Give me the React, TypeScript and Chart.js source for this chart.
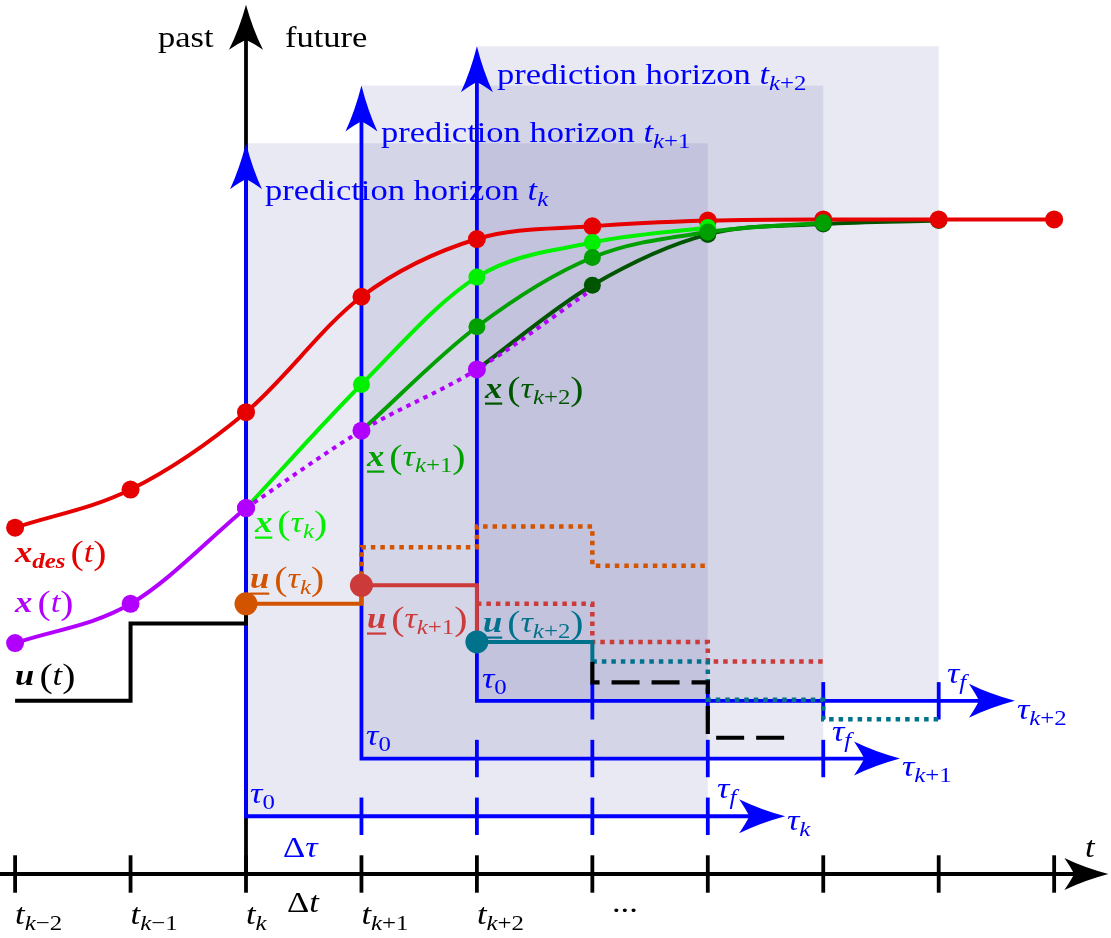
import React, { useEffect, useRef } from "react";
import { Chart, registerables } from "chart.js";

Chart.register(...registerables);

// ---------------- value ranges (1 unit = one sampling step, t_k = 0) ----------------
const X_MIN = -2.1308;
const X_MAX = 7.4924;
const Y_MIN = -0.5544;
const Y_MAX = 7.5704;

// ---------------- time axis ----------------
const timeTicks = [-2, -1, 0, 1, 2, 3, 4, 5, 6, 7];
const timeTickSubs = ["k−2", "k−1", "k", "k+1", "k+2"]; // for ticks -2 .. 2
const timeAxisEnd = 7.47;
const nowAxisTop = 7.53;

// ---------------- prediction horizons ----------------
const horizonStart = [0, 1, 2];
const horizonEnd = [4, 5, 6];
const horizonBase = [0.5, 1.0, 1.5];
const horizonTop = [6.33, 6.83, 7.17];
const horizonArrowEnd = [4.67, 5.665, 6.66];
const horizonSubs = ["k", "k+1", "k+2"];

// ---------------- states ----------------
const xDesT = [-2, -1, 0, 1, 2, 3, 4, 5, 6, 7];
const xDesV = [3.0, 3.33, 4.0, 5.0, 5.5, 5.61, 5.66, 5.67, 5.67, 5.67];

const xPastT = [-2, -1, 0];
const xPastV = [2.0, 2.34, 3.17];

const xActualT = [0, 1, 2, 2.95];
const xActualV = [3.17, 3.84, 4.37, 5.03];

const predKT = [0, 1, 2, 3, 4];
const predKV = [3.17, 4.24, 5.17, 5.47, 5.6];
const predK1T = [1, 2, 3, 4, 5];
const predK1V = [3.84, 4.74, 5.34, 5.56, 5.64];
const predK2T = [2, 3, 4, 5, 6];
const predK2V = [4.37, 5.1, 5.54, 5.63, 5.66];

// ---------------- inputs (step values) ----------------
const uPastT = [-2, -1, 0];
const uPastV = [1.5, 2.17, 2.34];
const uKT = [0, 1];
const uKV = [2.34, 2.5];
const uKPredT = [1, 1, 2, 3, 4];
const uKPredV = [2.5, 2.83, 3.01, 2.67, 2.67];
const uK1T = [1, 2];
const uK1V = [2.5, 2.01];
const uK1PredT = [2, 3, 4, 5];
const uK1PredV = [2.34, 2.01, 1.84, 1.84];
const uK2T = [2, 3];
const uK2V = [2.01, 1.84];
const uK2PredT = [3, 4, 5, 6];
const uK2PredV = [1.84, 1.51, 1.34, 1.34];
const uFutureT = [3, 3, 4, 4.67];
const uFutureV = [1.84, 1.66, 1.18, 1.18];

// ---------------- colours ----------------
const BLACK = "#000000";
const BLUE = "#0000FF";
const RED = "#E60000";
const PURPLE = "#B200FF";
const LIME = "#00F000";
const MIDGREEN = "#00A000";
const DARKGREEN = "#005600";
const ORANGE = "#D35400";
const INRED = "#CC3A3A";
const TEAL = "#00728C";
const SHADE = "rgba(40,40,140,0.1)";

// ---------------- text annotations (data coordinates, left / baseline) ----------------
type Part = [string, string];
const paren = (inner: Part[]): Part[] => [["", "s"], ["(", "P"], ...inner, [")", "P"]];
const tauSub = (sub: string): Part[] => {
  const m = sub.match(/^([a-z]*)(.*)$/);
  const parts: Part[] = [["τ", "i"]];
  if (m && m[1]) parts.push([m[1], "_i"]);
  if (m && m[2]) parts.push([m[2], "_r"]);
  return parts;
};

const annotations: { x: number; y: number; color: string; parts: Part[] }[] = [
  { x: -0.762, y: 7.163, color: BLACK, parts: [["past", "r"]] },
  { x: 0.338, y: 7.163, color: BLACK, parts: [["future", "r"]] },
  { x: 0.165, y: 5.838, color: BLUE, parts: [["prediction horizon ", "r"], ["t", "i"], ["k", "_i"]] },
  { x: 1.169, y: 6.34, color: BLUE, parts: [["prediction horizon ", "r"], ["t", "i"], ["k", "_i"], ["+1", "_r"]] },
  { x: 2.174, y: 6.843, color: BLUE, parts: [["prediction horizon ", "r"], ["t", "i"], ["k", "_i"], ["+2", "_r"]] },
  { x: -2.0, y: 2.7, color: RED, parts: [["x", "B"], ["des", "_B"], ...paren([["t", "i"]])] },
  { x: -2.0, y: 2.269, color: PURPLE, parts: [["x", "B"], ...paren([["t", "i"]])] },
  { x: -2.0, y: 1.637, color: BLACK, parts: [["u", "B"], ...paren([["t", "i"]])] },
  { x: 0.078, y: 2.962, color: LIME, parts: [["x", "U"], ...paren(tauSub("k"))] },
  { x: 0.035, y: 2.477, color: ORANGE, parts: [["u", "U"], ...paren(tauSub("k"))] },
  { x: 1.048, y: 3.534, color: MIDGREEN, parts: [["x", "U"], ...paren(tauSub("k+1"))] },
  { x: 1.048, y: 2.131, color: INRED, parts: [["u", "U"], ...paren(tauSub("k+1"))] },
  { x: 2.053, y: 2.096, color: TEAL, parts: [["u", "U"], ...paren(tauSub("k+2"))] },
  { x: 2.07, y: 4.123, color: DARKGREEN, parts: [["x", "U"], ...paren(tauSub("k+2"))] },
  { x: 0.035, y: 0.615, color: BLUE, parts: [["τ", "i"], ["0", "_r"]] },
  { x: 1.04, y: 1.117, color: BLUE, parts: [["τ", "i"], ["0", "_r"]] },
  { x: 2.044, y: 1.611, color: BLUE, parts: [["τ", "i"], ["0", "_r"]] },
  { x: 4.08, y: 0.658, color: BLUE, parts: [["τ", "i"], ["f", "_i"]] },
  { x: 5.076, y: 1.152, color: BLUE, parts: [["τ", "i"], ["f", "_i"]] },
  { x: 6.072, y: 1.654, color: BLUE, parts: [["τ", "i"], ["f", "_i"]] },
  { x: 4.686, y: 0.381, color: BLUE, parts: tauSub(horizonSubs[0]) },
  { x: 5.682, y: 0.849, color: BLUE, parts: tauSub(horizonSubs[1]) },
  { x: 6.678, y: 1.343, color: BLUE, parts: tauSub(horizonSubs[2]) },
  { x: 0.32, y: 0.147, color: BLUE, parts: [["Δ", "r"], ["τ", "i"]] },
  { x: 0.355, y: -0.329, color: BLACK, parts: [["Δ", "r"], ["t", "i"]] },
  { x: 3.17, y: -0.329, color: BLACK, parts: [["...", "r"]] },
  { x: 7.267, y: 0.147, color: BLACK, parts: [["t", "i"]] },
  ...timeTickSubs.map((s, i) => {
    const m = s.match(/^([a-z]*)(.*)$/)!;
    const parts: Part[] = [["t", "i"], [m[1], "_i"]];
    if (m[2]) parts.push([m[2], "_r"]);
    return { x: timeTicks[i], y: -0.433, color: BLACK, parts };
  }),
];

// ---------------- helpers ----------------
const pts = (xs: number[], ys: number[]) => xs.map((x, i) => ({ x, y: ys[i] }));

const FONT = '"Liberation Serif", "DejaVu Serif", "Noto Serif", serif';
const FS = 30;
const SX = 1.15;

function drawRich(ctx: CanvasRenderingContext2D, x0: number, y0: number, parts: Part[], color: string) {
  let cx = x0;
  ctx.fillStyle = color;
  ctx.textAlign = "left";
  ctx.textBaseline = "alphabetic";
  for (const [txt, st] of parts) {
    if (st === "s") {
      cx += FS * 0.17;
      continue;
    }
    let size = FS;
    let dy = 0;
    const sub = st.startsWith("_");
    const base = st.replace("_", "");
    if (sub) {
      size = FS * 0.72;
      dy = FS * 0.2;
    }
    let style = "";
    let weight = "";
    if (base === "i") style = "italic ";
    if (base === "B" || base === "U") {
      style = "italic ";
      weight = "bold ";
    }
    if (base === "P") {
      size = FS * 1.15;
      dy = FS * 0.06;
    }
    ctx.font = `${style}${weight}${Math.round(size * 10) / 10}px ${FONT}`;
    const w = ctx.measureText(txt).width * SX;
    ctx.save();
    ctx.translate(cx, y0 + dy);
    ctx.scale(SX, 1);
    ctx.fillText(txt, 0, 0);
    ctx.restore();
    if (base === "U") ctx.fillRect(cx, y0 + FS * 0.15, w, 2.2);
    cx += w;
  }
}

function arrowHead(ctx: CanvasRenderingContext2D, tx: number, ty: number, dx: number, dy: number, len: number, hw: number) {
  const qx = -dy;
  const qy = dx;
  const bx = tx - dx * len;
  const by = ty - dy * len;
  const nx = tx - dx * len * 0.78;
  const ny = ty - dy * len * 0.78;
  ctx.beginPath();
  ctx.moveTo(tx, ty);
  ctx.quadraticCurveTo(tx - dx * len * 0.55 + qx * hw * 0.4, ty - dy * len * 0.55 + qy * hw * 0.4, bx + qx * hw, by + qy * hw);
  ctx.quadraticCurveTo(nx - dx * len * 0.06 + qx * hw * 0.35, ny - dy * len * 0.06 + qy * hw * 0.35, nx, ny);
  ctx.quadraticCurveTo(nx - dx * len * 0.06 - qx * hw * 0.35, ny - dy * len * 0.06 - qy * hw * 0.35, bx - qx * hw, by - qy * hw);
  ctx.quadraticCurveTo(tx - dx * len * 0.55 - qx * hw * 0.4, ty - dy * len * 0.55 - qy * hw * 0.4, tx, ty);
  ctx.closePath();
  ctx.fill();
}

function seg(ctx: CanvasRenderingContext2D, x0: number, y0: number, x1: number, y1: number) {
  ctx.beginPath();
  ctx.moveTo(x0, y0);
  ctx.lineTo(x1, y1);
  ctx.stroke();
}

const TICK_HALF = 0.162;

const diagramPlugin = {
  id: "mpcDiagram",
  beforeDatasetsDraw(chart: any) {
    const ctx: CanvasRenderingContext2D = chart.ctx;
    const X = (v: number) => chart.scales.x.getPixelForValue(v);
    const Y = (v: number) => chart.scales.y.getPixelForValue(v);
    ctx.save();
    // shaded horizons
    ctx.fillStyle = SHADE;
    for (let i = 0; i < horizonStart.length; i++) {
      const x0 = X(horizonStart[i]);
      const x1 = X(horizonEnd[i]);
      const y0 = Y(horizonTop[i]);
      const y1 = Y(horizonBase[i]);
      ctx.fillRect(x0, y0, x1 - x0, y1 - y0);
    }
    // black time axis
    ctx.lineCap = "butt";
    ctx.lineJoin = "miter";
    ctx.strokeStyle = BLACK;
    ctx.fillStyle = BLACK;
    ctx.lineWidth = 3.8;
    seg(ctx, X(X_MIN), Y(0), X(timeAxisEnd) - 30, Y(0));
    arrowHead(ctx, X(timeAxisEnd), Y(0), 1, 0, 44, 16);
    for (const t of timeTicks) seg(ctx, X(t), Y(-TICK_HALF), X(t), Y(TICK_HALF));
    seg(ctx, X(0), Y(0), X(0), Y(nowAxisTop) + 30);
    arrowHead(ctx, X(0), Y(nowAxisTop), 0, -1, 45, 17);
    // blue prediction axes
    ctx.strokeStyle = BLUE;
    ctx.fillStyle = BLUE;
    for (let i = 0; i < horizonStart.length; i++) {
      const ox = X(horizonStart[i]);
      const oy = Y(horizonBase[i]);
      ctx.beginPath();
      ctx.moveTo(ox, Y(horizonTop[i]) + 30);
      ctx.lineTo(ox, oy);
      ctx.lineTo(X(horizonArrowEnd[i]) - 30, oy);
      ctx.stroke();
      arrowHead(ctx, ox, Y(horizonTop[i]), 0, -1, 46, 16);
      arrowHead(ctx, X(horizonArrowEnd[i]), oy, 1, 0, 46, 17);
      for (let j = horizonStart[i] + 1; j <= horizonEnd[i]; j++) {
        seg(ctx, X(j), Y(horizonBase[i] - TICK_HALF), X(j), Y(horizonBase[i] + TICK_HALF));
      }
    }
    ctx.restore();
  },
  afterDatasetsDraw(chart: any) {
    const ctx: CanvasRenderingContext2D = chart.ctx;
    const X = (v: number) => chart.scales.x.getPixelForValue(v);
    const Y = (v: number) => chart.scales.y.getPixelForValue(v);
    ctx.save();
    for (const a of annotations) drawRich(ctx, X(a.x), Y(a.y), a.parts, a.color);
    ctx.restore();
  },
};

const curve = (xs: number[], ys: number[], color: string, radii: number[], dash?: number[]) => ({
  data: pts(xs, ys),
  borderColor: color,
  backgroundColor: color,
  borderWidth: 4,
  borderDash: dash || [],
  cubicInterpolationMode: "monotone" as const,
  pointRadius: radii,
  pointBackgroundColor: color,
  pointBorderWidth: 0,
  pointHoverRadius: radii,
  fill: false,
  clip: false,
});

const step = (xs: number[], ys: number[], color: string, radii: number[], dash?: number[], width = 4) => ({
  data: pts(xs, ys),
  borderColor: color,
  backgroundColor: color,
  borderWidth: width,
  borderDash: dash || [],
  stepped: true,
  tension: 0,
  pointRadius: radii,
  pointBackgroundColor: color,
  pointBorderWidth: 0,
  pointHoverRadius: radii,
  fill: false,
  clip: false,
});

const DOT = [4.5, 5];

export default function App() {
  const ref = useRef<HTMLCanvasElement>(null);
  useEffect(() => {
    const canvas = ref.current;
    if (!canvas) return;
    const datasets: any[] = [
      step(uK2T, uK2V, TEAL, [11.5, 0]),
      step(uK1T, uK1V, INRED, [11.5, 0]),
      step(uKT, uKV, ORANGE, [11.5, 0]),
      step(uPastT, uPastV, BLACK, [0, 0, 0]),
      step(uFutureT, uFutureV, BLACK, [0, 0, 0, 0], [28, 12], 4.2),
      step(uK2PredT, uK2PredV, TEAL, [0, 0, 0, 0], DOT, 4.5),
      step(uK1PredT, uK1PredV, INRED, [0, 0, 0, 0], DOT, 4.5),
      step(uKPredT, uKPredV, ORANGE, [0, 0, 0, 0, 0], DOT, 4.5),
      curve(xPastT, xPastV, PURPLE, [9, 9, 9]),
      curve(xActualT, xActualV, PURPLE, [9, 9, 9, 0], [4.5, 5]),
      curve(predK1T, predK1V, MIDGREEN, [0, 8.5, 8.5, 8.5, 8.5]),
      curve(predKT, predKV, LIME, [0, 8.5, 8.5, 8.5, 8.5]),
      curve(xDesT, xDesV, RED, xDesT.map(() => 9)),
      curve(predK2T, predK2V, DARKGREEN, [0, 8.5, 8.5, 8.5, 8.5]),
    ];
    const chart = new Chart(canvas, {
      type: "line",
      data: { datasets },
      options: {
        responsive: false,
        maintainAspectRatio: false,
        animation: false,
        events: [],
        layout: { padding: 0, autoPadding: false },
        plugins: { legend: { display: false }, tooltip: { enabled: false } },
        scales: {
          x: { type: "linear", min: X_MIN, max: X_MAX, display: false },
          y: { type: "linear", min: Y_MIN, max: Y_MAX, display: false },
        },
      },
      plugins: [diagramPlugin],
    } as any);
    return () => chart.destroy();
  }, []);
  return (
    <div style={{ position: "absolute", left: 0, top: 0, width: 1111, height: 938, background: "#ffffff" }}>
      <canvas ref={ref} width={1111} height={938} style={{ display: "block", width: 1111, height: 938 }} />
    </div>
  );
}
